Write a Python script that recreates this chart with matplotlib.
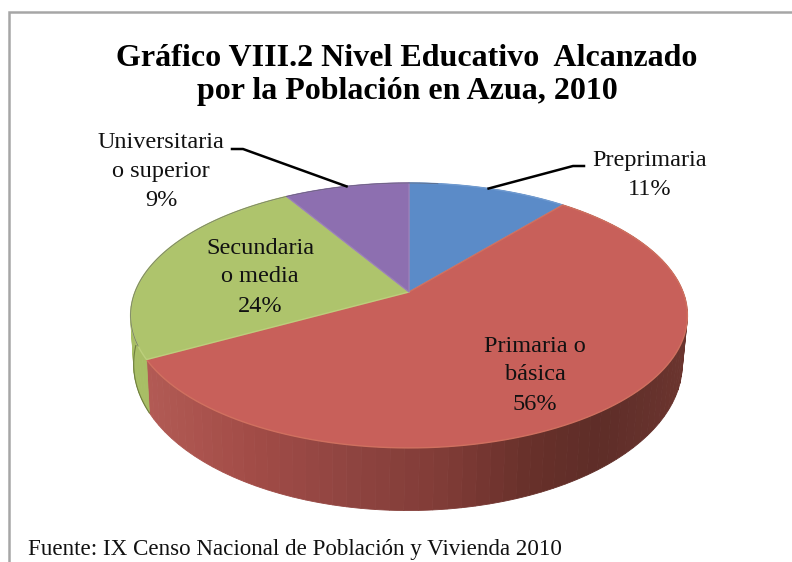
import numpy as np
import matplotlib
matplotlib.use("Agg")
import matplotlib.pyplot as plt

# datos (sentido horario desde arriba)
names = ["Preprimaria", "Primaria o\nbásica", "Secundaria\no media", "Universitaria\no superior"]
values = [11.0, 56.0, 24.4, 8.6]
top_colors = ["#5b8bc8", "#c8605a", "#aec46c", "#8d6fb0"]
rim_colors = ["#6f9ad0", "#d0705f", "#bccf7c", "#9a7fb8"]
side_colors = ["#4a75ab", "#8f4440", "#a8be65", "#75598f"]

title = "Gráfico VIII.2 Nivel Educativo  Alcanzado\npor la Población en Azua, 2010"
source = "Fuente: IX Censo Nacional de Población y Vivienda 2010"

plt.rcParams['font.family'] = ['Liberation Serif', 'DejaVu Serif']

# perspectiva de la tapa y de la base
K = 0.177
TOP = (409, 292, 274, 128.3)
BASE = (408, 338, 270, 142)


def project(theta, geom):
    cx, cy, rx, ry = geom
    u = np.sin(theta)
    v = np.cos(theta)
    w = 1 + K * v
    return cx + rx * u / w, cy - ry * v / w


fig = plt.figure(figsize=(7.92, 5.62), dpi=100)
ax = fig.add_axes([0, 0, 1, 1])
ax.set_xlim(0, 792)
ax.set_ylim(562, 0)
ax.axis("off")

# marco gris (solo arriba e izquierda)
ax.plot([792, 8.5, 8.5], [12, 12, 562], color="#a6a6a6", lw=1.8, solid_joinstyle="miter")

edges = np.concatenate([[0], np.cumsum(values)]) / np.sum(values) * 2 * np.pi

# sombreado del lateral rojo segun x
shade_x = [150, 250, 350, 450, 530, 600, 680]
shade_r = [178, 162, 143, 127, 104, 94, 106]
shade_g = [90, 76, 68, 59, 48, 45, 52]
shade_b = [84, 71, 64, 54, 42, 40, 46]

# lateral
for i in range(len(values)):
    n = max(int((edges[i + 1] - edges[i]) / np.radians(2.5)), 1)
    th = np.linspace(edges[i], edges[i + 1], n + 1)
    for a, b in zip(th[:-1], th[1:]):
        arc = np.linspace(a, b, 4)
        x1, y1 = project(arc, TOP)
        x2, y2 = project(arc[::-1], BASE)
        col = side_colors[i]
        if i == 1:
            xm = x1.mean()
            col = (np.interp(xm, shade_x, shade_r) / 255,
                   np.interp(xm, shade_x, shade_g) / 255,
                   np.interp(xm, shade_x, shade_b) / 255)
        ax.fill(np.r_[x1, x2], np.r_[y1, y2], color=col, lw=0.6)

# borde oscuro del lateral verde
arc = np.linspace(edges[2], edges[2] + 0.45, 30)
ax.plot(*project(arc, BASE), color="#6f7f40", lw=0.8)

# tapa
for i in range(len(values)):
    arc = np.linspace(edges[i], edges[i + 1], 120)
    x, y = project(arc, TOP)
    ax.fill(np.r_[TOP[0], x], np.r_[TOP[1], y], facecolor=top_colors[i],
            edgecolor=rim_colors[i], lw=1.0, joinstyle="round")

# borde trasero oscuro
arc = np.linspace(edges[2] + 0.1, 2 * np.pi + edges[1] * 0.18, 120)
ax.plot(*project(arc, TOP), color="#4a4a5a", lw=0.6, alpha=0.6)

# guias de las etiquetas
mids = (edges[:-1] + edges[1:]) / 2
gx, gy = project(mids[0], TOP)
ax.plot([gx, 573, 584], [gy, 166, 166], color="black", lw=1.8)
gx, gy = project(mids[3], TOP)
ax.plot([gx, 243, 232], [gy, 149, 149], color="black", lw=1.8)

# textos
label_pos = [(650, 175), (535, 375), (260, 277), (161, 172)]
for name, val, (lx, ly) in zip(names, values, label_pos):
    ax.text(lx, ly, "%s\n%d%%" % (name, round(val)), ha="center", va="center",
            fontsize=17.5, color="#111111", linespacing=1.5)

ax.text(407, 75, title, ha="center", va="center", fontsize=23,
        fontweight="bold", color="black", linespacing=1.22)
ax.text(28, 550, source, ha="left", va="center", fontsize=16.6, color="#111111")

fig.savefig("out.png", dpi=100)
